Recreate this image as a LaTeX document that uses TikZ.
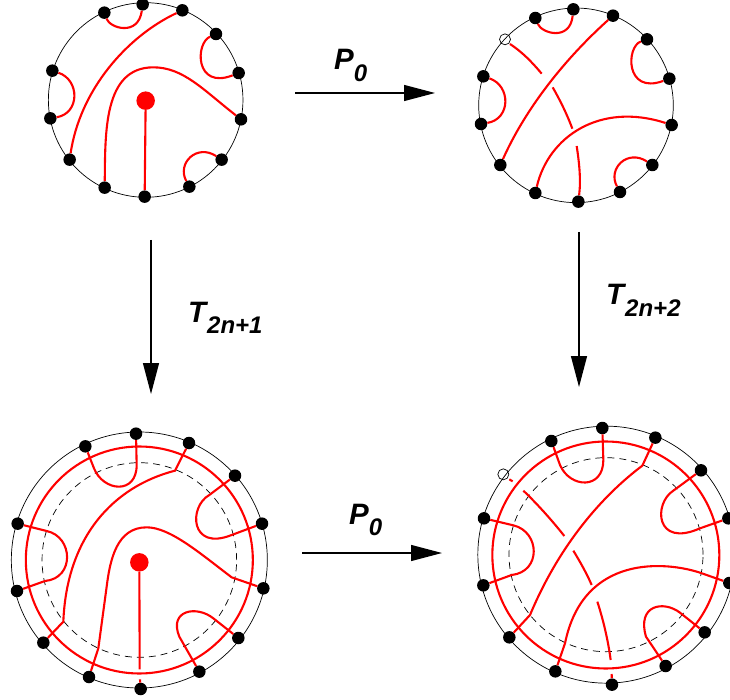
\documentclass[tikz,border=0pt]{standalone}
\usepackage{fontspec}
\setmainfont{Liberation Sans}
\usetikzlibrary{arrows.meta}
\tikzset{
  rim/.style={black,line width=0.7pt},
  cord/.style={red,line width=2.1pt},
  hidden/.style={black,line width=0.7pt,dash pattern=on 7pt off 5pt},
  band/.style={red,line width=2.1pt},
  pin/.style={circle,fill=black,inner sep=0pt,minimum size=12.5pt},
  bigdot/.style={circle,fill=red,inner sep=0pt,minimum size=18.5pt},
  hole/.style={circle,draw=black,line width=0.7pt,inner sep=0pt,minimum size=11pt},
  flow/.style={black,line width=1.3pt,-{Triangle[length=31pt,width=16pt]}},
  lab/.style={font=\bfseries\itshape\fontsize{29.5}{29.5}\selectfont,inner sep=0pt},
  zoomed/.style={x=0.33333pt,y=-0.33333pt}
}
\newcommand{\pins}[1]{\foreach \n/\p in {#1}{\node[pin] (\n) at \p {};}}
\newcommand{\sbs}[2]{\kern#1pt\raisebox{-11.5pt}{\fontsize{24}{24}\selectfont #2}}
\begin{document}
\begin{tikzpicture}[x=1pt,y=-1pt]
\useasboundingbox (0,0) rectangle (730,700);
\clip (0,0) rectangle (730,700);

% ---------- top left
\begin{scope}[shift={(30,0)},zoomed]
\draw[rim] (347,300) circle[radius=97.3pt];
\pins{a1/{(338,13)},a2/{(457,31)},a3/{(558,102)},a4/{(626,219)},a5/{(633,358)},a6/{(575,479)},a7/{(478,560)},a8/{(344,590)},a9/{(224,563)},a10/{(119,479)},a11/{(61,355)},a12/{(67,212)},a13/{(223,38)}}
\node[bigdot] (a0) at (347,302) {};
\draw[cord] (a13) .. controls (240,85) and (325,110) .. (a1);
\draw[cord] (a10) .. controls (150,270) and (290,110) .. (a2);
\draw[cord] (a9) .. controls (226,400) and (220,202) .. (370,202) .. controls (460,202) and (520,270) .. (a5);
\draw[cord] (a3) .. controls (495,130) and (495,270) .. (a4);
\draw[cord] (a12) .. controls (150,240) and (150,340) .. (a11);
\draw[cord] (a7) .. controls (440,490) and (500,430) .. (a6);
\draw[cord] (a0) -- (a8);
\end{scope}

% ---------- top right
\begin{scope}[shift={(460,0)},zoomed]
\draw[rim] (348,316) circle[radius=97.3pt];
\node[hole] (bh) at (135,118) {};
\pins{b1/{(340,28)},b2/{(459,47)},b3/{(561,118)},b4/{(628,236)},b5/{(635,375)},b6/{(577,495)},b7/{(480,576)},b8/{(355,605)},b9/{(226,579)},b10/{(121,495)},b11/{(63,372)},b12/{(70,229)},b13/{(226,54)}}
\draw[cord] (b13) .. controls (245,100) and (330,125) .. (b1);
\draw[cord] (b10) .. controls (190,340) and (300,190) .. (b2);
\draw[cord] (b12) .. controls (153,257) and (153,357) .. (b11);
\draw[cord] (b3) .. controls (498,140) and (495,285) .. (b4);
\draw[cord] (b9) .. controls (265,410) and (420,305) .. (b5);
\draw[cord] (b7) .. controls (442,506) and (502,446) .. (b6);
\draw[cord] (150,132) .. controls (185,155) and (215,185) .. (245,221);
\draw[cord] (278,262) .. controls (300,300) and (322,345) .. (337,386);
\draw[cord] (350,438) .. controls (358,490) and (363,540) .. (b8);
\end{scope}

% ---------- bottom left
\begin{scope}[shift={(0,420)},zoomed]
\draw[rim] (418,420) circle[radius=128pt];
\draw[hidden] (418,420) circle[radius=97.3pt];
\draw[band] (418,420) circle[radius=113.5pt];
\pins{c1/{(408,41)},c2/{(567,69)},c3/{(705,167)},c4/{(786,311)},c5/{(790,505)},c6/{(715,654)},c7/{(598,755)},c8/{(422,807)},c9/{(267,771)},c10/{(130,668)},c11/{(51,513)},c12/{(53,311)},c13/{(256,79)}}
\node[bigdot] (c0) at (418,427) {};
\coordinate (cu) at (419,748);
\coordinate (cl) at (420,778);
\draw[cord] (c13) -- (282,145) .. controls (310,215) and (410,225) .. (410,135) -- (c1);
\draw[cord] (c2) -- (525,152) .. controls (340,200) and (200,350) .. (190,605) -- (c10);
\draw[cord] (c3) -- (628,225) .. controls (565,260) and (570,395) .. (695,345) -- (c4);
\draw[cord] (c5) -- (695,472) .. controls (600,400) and (510,322) .. (440,322) .. controls (350,322) and (330,420) .. (320,500) -- (295,685) -- (c9);
\draw[cord] (c12) -- (140,333) .. controls (220,350) and (225,475) .. (135,483) -- (c11);
\draw[cord] (c6) -- (640,595) .. controls (590,555) and (505,570) .. (538,650) -- (c7);
\draw[cord] (c0) -- (cu);
\draw[cord] (cl) -- (c8);
\end{scope}

% ---------- bottom right
\begin{scope}[shift={(460,420)},zoomed]
\draw[rim] (439,404) circle[radius=128.5pt];
\draw[hidden] (438,404) circle[radius=97pt];
\draw[band] (437.5,405) circle[radius=113.5pt];
\node[hole] (dh) at (130,163) {};
\pins{d1/{(427,24)},d2/{(586,53)},d3/{(723,151)},d4/{(805,295)},d5/{(808,489)},d6/{(734,637)},d7/{(617,738)},d8/{(456,794)},d9/{(286,754)},d10/{(148,652)},d11/{(70,496)},d12/{(72,295)},d13/{(274,63)}}
\coordinate (dl) at (455,762);
\draw[cord] (d13) -- (300,135) .. controls (330,205) and (430,210) .. (430,120) -- (d1);
\draw[cord] (d2) -- (547,137) .. controls (430,225) and (300,370) .. (210,585) -- (d10);
\draw[cord] (d3) -- (640,212) .. controls (580,250) and (585,385) .. (720,325) -- (d4);
\draw[cord] (d12) -- (160,316) .. controls (240,335) and (245,455) .. (155,465) -- (d11);
\draw[cord] (d5) -- (720,458) .. controls (620,425) and (370,400) .. (315,670) -- (d9);
\draw[cord] (d6) -- (660,578) .. controls (610,540) and (530,555) .. (558,650) -- (d7);
\draw[cord] (148,178) -- (158,184);
\draw[cord] (190,212) .. controls (230,250) and (275,300) .. (313,348);
\draw[cord] (340,392) .. controls (360,425) and (380,460) .. (395,495);
\draw[cord] (412,545) .. controls (430,600) and (445,665) .. (452,720);
\draw[cord] (dl) -- (d8);
\end{scope}

% ---------- arrows
\coordinate (p1s) at (295,93);   \coordinate (p1e) at (435,93);
\coordinate (t1s) at (151,240);  \coordinate (t1e) at (151,394);
\coordinate (t2s) at (579,232);  \coordinate (t2e) at (579,387);
\coordinate (p2s) at (302,553);  \coordinate (p2e) at (442,553);
\draw[flow] (p1s) -- (p1e);
\draw[flow] (t1s) -- (t1e);
\draw[flow] (t2s) -- (t2e);
\draw[flow] (p2s) -- (p2e);
\node[lab,anchor=base west] (l1) at (334,70) {P\sbs{0}{0}};
\node[lab,anchor=base west] (l2) at (188,322) {T\sbs{1}{2n+1}};
\node[lab,anchor=base west] (l3) at (606,305) {T\sbs{1}{2n+2}};
\node[lab,anchor=base west] (l4) at (349,524) {P\sbs{0}{0}};
\end{tikzpicture}
\end{document}
